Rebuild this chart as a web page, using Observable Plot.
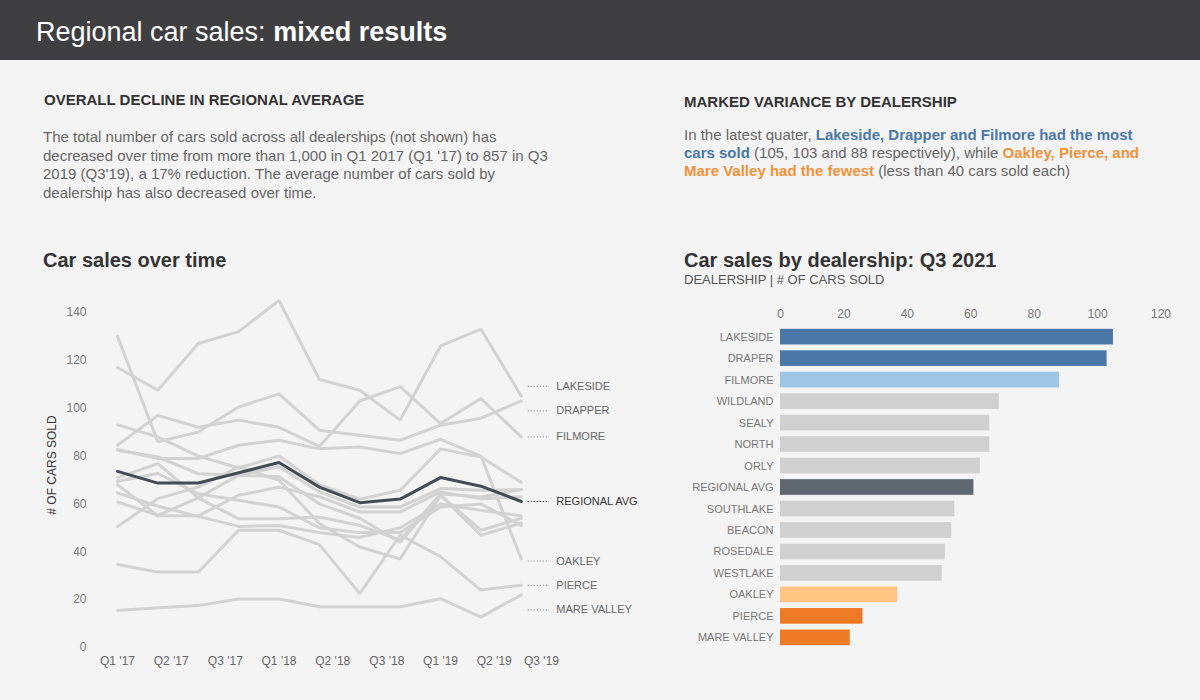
<!DOCTYPE html>
<html><head><meta charset="utf-8">
<script src="https://cdn.jsdelivr.net/npm/d3@7"></script>
<script src="https://cdn.jsdelivr.net/npm/@observablehq/plot@0.6"></script>
<style>
body{margin:0;background:#f4f4f4;font-family:"Liberation Sans",Arial,sans-serif;width:1200px;height:700px;position:relative;overflow:hidden}
.hdr{position:absolute;left:0;top:0;width:1200px;height:60px;background:#3f3f41}
.hdr h1{margin:0;position:absolute;left:36px;top:17px;font-size:27px;font-weight:normal;color:#fff;line-height:31px;white-space:nowrap}
.abs{position:absolute;white-space:nowrap}
.h2{font-size:15px;font-weight:bold;color:#333;line-height:17px}
.p{font-size:15px;color:#666;line-height:18.5px}
.h3{font-size:20px;font-weight:bold;color:#333;line-height:24px}
.sub{font-size:13px;color:#555;line-height:15px}
.blue{color:#4a78a8;font-weight:bold}
.orange{color:#f0923a;font-weight:bold}
#ylab{position:absolute;left:52px;top:465px;transform:translate(-50%,-50%) rotate(-90deg);font-size:12px;color:#333;white-space:nowrap}
#line{position:absolute;left:0;top:285px}
#bar{position:absolute;left:680px;top:295px}
</style></head>
<body>
<div class="hdr"><h1>Regional car sales: <b>mixed results</b></h1></div>
<div class="abs h2" style="left:44px;top:91px">OVERALL DECLINE IN REGIONAL AVERAGE</div>
<div class="abs p" style="left:43px;top:128px">The total number of cars sold across all dealerships (not shown) has<br>decreased over time from more than 1,000 in Q1 2017 (Q1 '17) to 857 in Q3<br>2019 (Q3'19), a 17% reduction. The average number of cars sold by<br>dealership has also decreased over time.</div>
<div class="abs h2" style="left:684px;top:93px">MARKED VARIANCE BY DEALERSHIP</div>
<div class="abs p" style="left:684px;top:126px;line-height:18px">In the latest quater, <span class="blue">Lakeside, Drapper and Filmore had the most</span><br><span class="blue">cars sold</span> (105, 103 and 88 respectively), while <span class="orange">Oakley, Pierce, and</span><br><span class="orange">Mare Valley had the fewest</span> (less than 40 cars sold each)</div>
<div class="abs h3" style="left:43px;top:248px">Car sales over time</div>
<div class="abs h3" style="left:684px;top:248px">Car sales by dealership: Q3 2021</div>
<div class="abs sub" style="left:684px;top:272px">DEALERSHIP | # OF CARS SOLD</div>
<div id="ylab"># OF CARS SOLD</div>
<div id="line"></div>
<div id="bar"></div>
<script>
// ---- Data: line chart (quarterly, Q1 '17 .. Q3 '19) ----
const quarters = ["Q1 '17","Q2 '17","Q3 '17","Q4 '17","Q1 '18","Q2 '18","Q3 '18","Q4 '18","Q1 '19","Q2 '19","Q3 '19"];
const tickLabels = ["Q1 '17","Q2 '17","Q3 '17","Q1 '18","Q2 '18","Q3 '18","Q1 '19","Q2 '19","Q3 '19"];
const tickIndex = [0, 1.33, 2.67, 4, 5.33, 6.67, 8, 9.33, 10.5];
const yTicks = [0, 20, 40, 60, 80, 100, 120, 140];

const lakeside   = [117, 107.5, 127, 132, 145, 112, 107.5, 95, 126, 133, 105];
const draper     = [130, 86, 90, 100.5, 106, 90.8, 88.7, 86.6, 92.9, 95.8, 103];
const filmore    = [84.5, 97, 92, 95, 92, 84, 103, 109, 93.6, 104, 88];
const wildland   = [93, 88, 80, 75, 80, 68, 62, 65.7, 83, 79.6, 69];
const sealy      = [82.4, 79.6, 72.6, 72, 75.5, 65, 58.7, 58.7, 66.4, 65.7, 66];
const north      = [71, 76.8, 62.5, 53.8, 53.8, 54.5, 51, 44.8, 64.2, 62.9, 66];
const orly       = [68, 55, 55, 63.6, 67, 63, 56.6, 56.6, 65, 62.2, 63];
const southlake  = [64.6, 59, 54.8, 50.6, 51, 48, 46, 50, 60, 57.3, 55];
const beacon     = [60.8, 55.2, 62.5, 72, 71.3, 60, 54, 44, 63.6, 49, 54];
const rosedale   = [50.5, 62.2, 67, 75.5, 69.9, 51.8, 42, 37, 63.6, 46.9, 52];
const westlake   = [69.5, 72.7, 64.2, 61.5, 58.7, 50, 48, 48, 58.7, 60, 51];
const oakley     = [82.7, 79, 79, 84.5, 86.6, 83, 83.8, 81, 87, 80, 37];
const pierce     = [34.7, 31.5, 31.5, 49, 49, 43, 22.5, 47, 38, 24, 26];
const mareValley = [15.5, 16.6, 17.5, 20.3, 20.3, 17, 17, 17, 20.4, 12.7, 22];
const regionalAvg = [73.6, 68.7, 68.7, 73, 77.3, 67, 60.5, 62, 71, 67.4, 61];

const dealerNames = ["LAKESIDE","DRAPER","FILMORE","WILDLAND","SEALY","NORTH","ORLY","SOUTHLAKE","BEACON","ROSEDALE","WESTLAKE","OAKLEY","PIERCE","MARE VALLEY"];
const dealerSeries = [lakeside, draper, filmore, wildland, sealy, north, orly, southlake, beacon, rosedale, westlake, oakley, pierce, mareValley];

const endLabelNames = ["LAKESIDE","DRAPPER","FILMORE","REGIONAL AVG","OAKLEY","PIERCE","MARE VALLEY"];
const endLabelSeries = [lakeside, draper, filmore, regionalAvg, oakley, pierce, mareValley];

// ---- Data: bar chart (Q3) ----
const barNames  = ["LAKESIDE","DRAPER","FILMORE","WILDLAND","SEALY","NORTH","ORLY","REGIONAL AVG","SOUTHLAKE","BEACON","ROSEDALE","WESTLAKE","OAKLEY","PIERCE","MARE VALLEY"];
const barValues = [105, 103, 88, 69, 66, 66, 63, 61, 55, 54, 52, 51, 37, 26, 22];
const barGroups = ["top","top","high","mid","mid","mid","mid","avg","mid","mid","mid","mid","low","bottom","bottom"];
const xTicks = [0, 20, 40, 60, 80, 100, 120];

const groupColor = {top:"#4a77a8", high:"#9fc5e4", mid:"#d0d0d0", avg:"#5f6771", low:"#ffc382", bottom:"#ef7a26"};
const FONT = '"Liberation Sans", Arial, sans-serif';

// long-format line data
const dealerRows = dealerNames.flatMap((n, s) => dealerSeries[s].map((v, i) => ({name: n, i, q: quarters[i], v})));
const avgRows = regionalAvg.map((v, i) => ({i, q: quarters[i], v}));

// end labels, dodged (pushed apart) so they don't overlap
function dodge(vals, gap) {
  const order = vals.map((v, k) => k).sort((a, b) => vals[b] - vals[a]);
  let groups = order.map(k => ({ks: [k], c: vals[k]}));
  let changed = true;
  while (changed) {
    changed = false;
    for (let g = 0; g < groups.length - 1; g++) {
      const a = groups[g], b = groups[g + 1];
      const aBot = a.c - (a.ks.length - 1) * gap / 2;
      const bTop = b.c + (b.ks.length - 1) * gap / 2;
      if (aBot - bTop < gap) {
        const ks = a.ks.concat(b.ks);
        // anchor the merged group on its lowest member's extent
        groups.splice(g, 2, {ks, c: d3.mean(ks, k => vals[k]) - (ks.length > 2 ? 2.4 : 0)});
        changed = true; break;
      }
    }
  }
  const out = [];
  for (const g of groups) g.ks.forEach((k, j) => out[k] = g.c + ((g.ks.length - 1) / 2 - j) * gap);
  return out;
}
const endVals = endLabelSeries.map(s => s[s.length - 1]);
const labelY = dodge(endVals, 10.2);
const endRows = endLabelNames.map((n, k) => ({name: n, ly: labelY[k], avg: n === "REGIONAL AVG"}));
const tickMap = new Map(tickIndex.map((t, k) => [t, tickLabels[k]]));

const lineChart = Plot.plot({
  width: 660, height: 395,
  marginLeft: 117, marginRight: 119, marginTop: 3, marginBottom: 33,
  style: {background: "transparent", fontFamily: FONT, fontSize: "12px", color: "#777", overflow: "visible"},
  x: {domain: [0, 10.5], label: null},
  y: {domain: [0, 150], label: null},
  marks: [
    Plot.axisX({ticks: tickIndex, tickFormat: d => tickMap.get(d), tickSize: 0, tickPadding: 9, label: null, fill: "#666"}),
    Plot.axisY({ticks: yTicks, tickSize: 0, tickPadding: 31, label: null, fill: "#777"}),
    Plot.line(dealerRows, {x: "i", y: "v", z: "name", stroke: "#d2d2d2", strokeWidth: 3, strokeLinejoin: "miter"}),
    Plot.line(avgRows, {x: "i", y: "v", stroke: "#454b55", strokeWidth: 3}),
    Plot.ruleY(endRows, {y: "ly", x1: 10.17, x2: 10.7, stroke: d => d.avg ? "#333" : "#aaa", strokeWidth: 1.2, strokeDasharray: "1.3,1.7"}),
    Plot.text(endRows, {x: 10, y: "ly", text: "name", dx: 35, textAnchor: "start", fontSize: 11, fill: d => d.avg ? "#333" : "#666"})
  ]
});
document.getElementById("line").append(lineChart);

const bars = barNames.map((n, k) => ({name: n, value: barValues[k], color: groupColor[barGroups[k]]}));
const barChart = Plot.plot({
  width: 500, height: 360,
  marginLeft: 100, marginRight: 19.5, marginTop: 28, marginBottom: 4,
  style: {background: "transparent", fontFamily: FONT, fontSize: "12px", color: "#777", overflow: "visible"},
  x: {domain: [0, 120], label: null},
  y: {domain: barNames, padding: 0.27, round: false, label: null},
  color: {type: "identity"},
  marks: [
    Plot.axisX({anchor: "top", ticks: xTicks, tickSize: 0, tickPadding: 6, label: null, fill: "#777"}),
    Plot.axisY({tickSize: 0, tickPadding: 7, label: null, fontSize: 11, fill: "#777"}),
    Plot.barX(bars, {x: "value", y: "name", fill: "color"})
  ]
});
document.getElementById("bar").append(barChart);
</script>
</body></html>
